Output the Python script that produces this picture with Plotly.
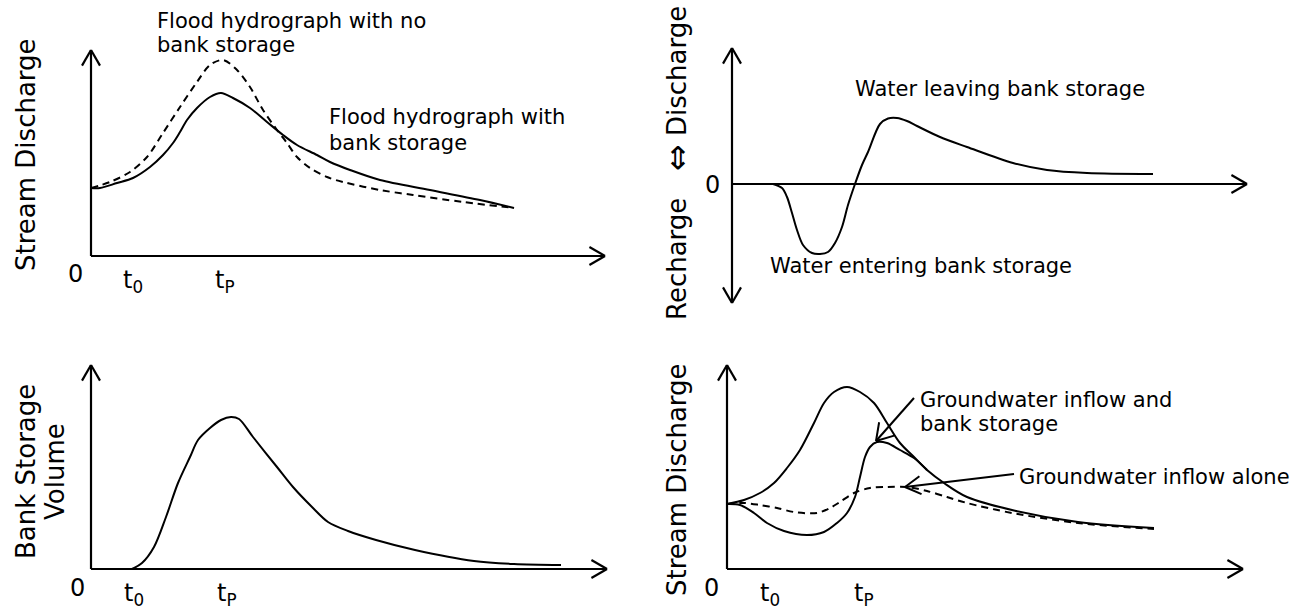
import math
import plotly.graph_objects as go

W, H = 1302, 609
U = 10.0  # pixels per data unit (schematic units)
FONT = "DejaVu Sans"

# ---------------- data (schematic units: time, discharge/volume) ----------------
# Top-left: flood hydrographs
tl_t_bank = [0, 0.9, 2.6, 4.2, 5.9, 7.2, 8.2, 8.9, 9.6, 10.6, 11.9, 13.0, 14.2, 15.9, 17.6, 19.2, 20.6, 22.6, 23.9, 25.9, 28.9, 33.9, 38.9, 42.3]
tl_q_bank = [6.8, 6.8, 7.3, 7.8, 8.9, 10.1, 11.3, 12.4, 13.6, 14.8, 15.9, 16.3, 15.8, 14.8, 13.4, 12.1, 11.1, 10.1, 9.4, 8.6, 7.6, 6.6, 5.6, 4.8]
tl_t_nobank = [0, 1.9, 3.9, 5.6, 7.2, 8.9, 10.6, 11.9, 13.2, 14.6, 15.9, 17.2, 18.6, 19.6, 20.6, 21.9, 23.6, 25.2, 28.9, 32.2, 37.2, 42.3]
tl_q_nobank = [6.8, 7.4, 8.4, 9.9, 12.3, 14.9, 17.4, 19.1, 19.6, 18.6, 16.9, 14.6, 12.6, 11.3, 9.9, 8.8, 7.9, 7.4, 6.6, 6.1, 5.4, 4.8]
tl_t0, tl_tp = 4.2, 13.4

# Top-right: bank storage exchange (negative = recharge, positive = discharge)
tr_t = [4.1, 5.0, 5.5, 6.0, 6.5, 7.1, 8.0, 8.8, 9.6, 10.3, 11.0, 11.6, 12.3, 13.0, 13.6, 14.8, 15.6, 16.5, 17.5, 18.5, 20.8, 23.5, 28.1, 31.5, 35.5, 42.1]
tr_q = [0, -0.4, -1.3, -2.9, -4.6, -6.1, -6.9, -7.0, -6.8, -5.9, -4.3, -2.1, 0, 1.9, 3.2, 6.0, 6.55, 6.6, 6.3, 5.8, 4.7, 3.7, 2.1, 1.4, 1.1, 1.0]

# Bottom-left: bank storage volume
bl_t = [4.1, 5.1, 6.3, 7.5, 8.7, 9.9, 10.7, 11.9, 13.0, 14.0, 14.8, 16.2, 18.6, 20.2, 22.1, 23.7, 25.7, 28.5, 32.4, 38.3, 42.3, 47.0]
bl_v = [0, 0.6, 2.2, 5.2, 8.6, 11.2, 12.9, 14.1, 14.9, 15.2, 15.0, 13.2, 10.2, 8.2, 6.2, 4.7, 3.8, 2.9, 1.9, 0.8, 0.5, 0.4]
bl_t0, bl_tp = 4.3, 13.6

# Bottom-right: stream discharge components
br_t_flood = [0, 1.7, 3.3, 4.7, 6.0, 7.3, 8.7, 9.7, 10.7, 12.0, 13.3, 14.7, 16.0, 17.3, 18.7, 20.0, 21.7, 24.0, 28.5, 35.1, 42.7]
br_q_flood = [6.5, 6.9, 7.6, 8.6, 10.1, 11.9, 14.6, 16.6, 17.7, 18.2, 17.7, 16.6, 14.6, 12.6, 11.2, 9.9, 8.6, 7.2, 5.9, 4.7, 4.1]
br_t_gwbank = [0, 1.3, 2.7, 4.0, 5.7, 8.0, 9.7, 11.0, 12.0, 12.8, 13.3, 13.8, 14.3, 15.0, 16.0, 17.3, 18.7, 20.0]
br_q_gwbank = [6.5, 6.4, 5.6, 4.6, 3.8, 3.4, 3.7, 4.6, 5.6, 7.2, 9.2, 11.2, 12.2, 12.7, 12.6, 11.9, 11.1, 9.9]
br_t_gw = [0, 1.7, 3.3, 5.0, 6.7, 9.0, 10.3, 11.3, 12.7, 14.3, 16.0, 18.0, 20.0, 22.0, 24.0, 28.5, 35.1, 42.7]
br_q_gw = [6.5, 6.6, 6.4, 6.1, 5.7, 5.6, 6.1, 6.7, 7.6, 8.1, 8.2, 8.2, 7.8, 7.2, 6.6, 5.6, 4.6, 4.0]
br_t0, br_tp = 4.3, 13.7

tick_labels = ["0", "t<sub>0</sub>", "t<sub>P</sub>"]

# ---------------- panel geometry (pixels) ----------------
panels = {
    "tl": dict(x0=91, y0=256, xtip=605, ytop=50, ybot=256),
    "tr": dict(x0=732, y0=184, xtip=1247, ytop=48, ybot=303),
    "bl": dict(x0=91, y0=569, xtip=607, ytop=365, ybot=569),
    "br": dict(x0=727, y0=569, xtip=1243, ytop=365, ybot=569),
}


def px(x):
    return x / W


def py(y):
    return 1 - y / H


fig = go.Figure()
layout_axes = {}
for i, (k, p) in enumerate(panels.items(), start=1):
    sfx = "" if i == 1 else str(i)
    layout_axes["xaxis" + sfx] = dict(
        domain=[px(p["x0"]), px(p["xtip"])],
        range=[0, (p["xtip"] - p["x0"]) / U],
        visible=False, showgrid=False, zeroline=False, anchor="y" + sfx,
    )
    layout_axes["yaxis" + sfx] = dict(
        domain=[py(p["ybot"]), py(p["ytop"])],
        range=[-(p["ybot"] - p["y0"]) / U, (p["y0"] - p["ytop"]) / U],
        visible=False, showgrid=False, zeroline=False, anchor="x" + sfx,
    )

solid = dict(color="black", width=2, shape="spline", smoothing=0.9)
dashed = dict(color="black", width=2, shape="spline", smoothing=0.9, dash="7px,5px")

fig.add_trace(go.Scatter(x=tl_t_nobank, y=tl_q_nobank, mode="lines", line=dashed, xaxis="x", yaxis="y"))
fig.add_trace(go.Scatter(x=tl_t_bank, y=tl_q_bank, mode="lines", line=solid, xaxis="x", yaxis="y"))
fig.add_trace(go.Scatter(x=tr_t, y=tr_q, mode="lines", line=solid, xaxis="x2", yaxis="y2"))
fig.add_trace(go.Scatter(x=bl_t, y=bl_v, mode="lines", line=solid, xaxis="x3", yaxis="y3"))
fig.add_trace(go.Scatter(x=br_t_gw, y=br_q_gw, mode="lines", line=dashed, xaxis="x4", yaxis="y4"))
fig.add_trace(go.Scatter(x=br_t_flood, y=br_q_flood, mode="lines", line=solid, xaxis="x4", yaxis="y4"))
fig.add_trace(go.Scatter(x=br_t_gwbank, y=br_q_gwbank, mode="lines", line=solid, xaxis="x4", yaxis="y4"))

# ---------------- axes drawn as arrows ----------------
shapes = []
AXW = 2.2


def seg(x1, y1, x2, y2, w=AXW):
    shapes.append(dict(type="line", xref="paper", yref="paper",
                       x0=px(x1), y0=py(y1), x1=px(x2), y1=py(y2),
                       line=dict(color="black", width=w)))


def vee(tipx, tipy, tailx, taily, length=18, ang=30, w=AXW):
    a = math.atan2(taily - tipy, tailx - tipx)
    for s in (-1, 1):
        b = a + s * math.radians(ang)
        seg(tipx, tipy, tipx + length * math.cos(b), tipy + length * math.sin(b), w)


for k, p in panels.items():
    seg(p["x0"], p["y0"], p["xtip"], p["y0"])
    vee(p["xtip"], p["y0"], p["x0"], p["y0"])
    seg(p["x0"], p["ybot"], p["x0"], p["ytop"])
    vee(p["x0"], p["ytop"], p["x0"], p["ybot"])
    if p["ybot"] != p["y0"]:
        vee(p["x0"], p["ybot"], p["x0"], p["ytop"])

# annotation arrows (bottom-right)
seg(914, 398, 876, 441, 2)
vee(876, 441, 914, 398, length=19, ang=32, w=2)
seg(1014, 474, 905, 487, 2)
vee(905, 487, 1014, 474, length=18, ang=30, w=2)

# ---------------- text ----------------
ann = []


def text(s, x, y, size=21, xanchor="left", angle=0):
    ann.append(dict(text=s, x=px(x), y=py(y), xref="paper", yref="paper",
                    xanchor=xanchor, yanchor="middle", showarrow=False,
                    textangle=angle, font=dict(family=FONT, size=size, color="black")))


text("Flood hydrograph with no", 155, 21)
text("bank storage", 155, 45)
text("Flood hydrograph with", 327, 117)
text("bank storage", 327, 143)
text("Water leaving bank storage", 853, 89)
text("Water entering bank storage", 768, 266)
text("Groundwater inflow and", 918, 400)
text("bank storage", 918, 424)
text("Groundwater inflow alone", 1017, 477)

# axis titles
text("Stream Discharge", 26, 155, size=26, xanchor="center", angle=-90)
text("Discharge", 677, 71, size=26, xanchor="center", angle=-90)
text("⇔", 677, 157, size=32, xanchor="center", angle=-90)
text("Recharge", 677, 259, size=26, xanchor="center", angle=-90)
text("Bank Storage", 26, 472, size=26, xanchor="center", angle=-90)
text("Volume", 55, 472, size=26, xanchor="center", angle=-90)
text("Stream Discharge", 677, 479, size=26, xanchor="center", angle=-90)

# tick labels: origin "0" and t0 / tP under the time axis
text(tick_labels[0], 75, 274, size=24, xanchor="center")
text(tick_labels[0], 77, 588, size=24, xanchor="center")
text(tick_labels[0], 712, 185, size=24, xanchor="center")
text(tick_labels[0], 711, 588, size=24, xanchor="center")

for (xa, t0, tp, ylab) in [("x", tl_t0, tl_tp, 281), ("x3", bl_t0, bl_tp, 594), ("x4", br_t0, br_tp, 594)]:
    for tv, lab in [(t0, tick_labels[1]), (tp, tick_labels[2])]:
        ann.append(dict(text=lab, x=tv, y=py(ylab), xref=xa, yref="paper",
                        xanchor="center", yanchor="middle", showarrow=False,
                        font=dict(family=FONT, size=24, color="black")))

fig.update_layout(
    width=W, height=H, margin=dict(l=0, r=0, t=0, b=0),
    paper_bgcolor="white", plot_bgcolor="rgba(0,0,0,0)",
    showlegend=False, shapes=shapes, annotations=ann,
    font=dict(family=FONT, color="black"),
    **layout_axes,
)

fig.write_html("out.html", config={"displayModeBar": False},
               post_script="document.body.style.margin='0';")
